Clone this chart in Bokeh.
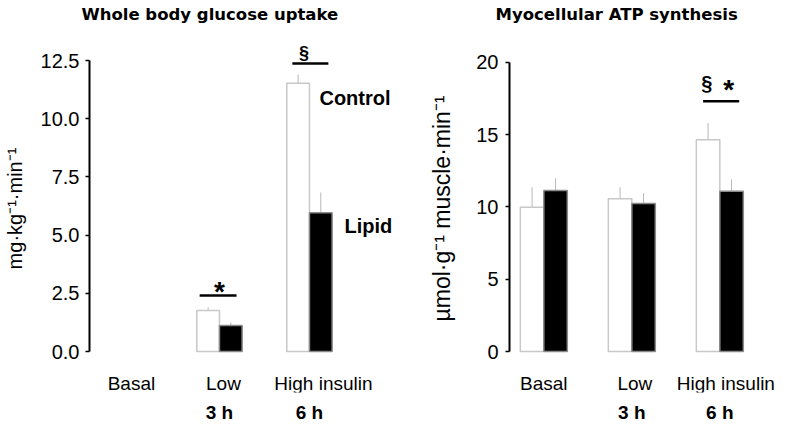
import math
from bokeh.plotting import figure
from bokeh.models import Range1d, FixedTicker
from bokeh.layouts import row
from bokeh.embed import file_html
from bokeh.resources import INLINE
from bokeh.core.properties import value

# ---------------- data ----------------
categories = ["Basal", "Low", "High insulin"]
time_labels = ["", "3 h", "6 h"]
nan = float("nan")

glucose_control = [nan, 1.76, 11.52]
glucose_control_err = [nan, 0.14, 0.38]
glucose_lipid = [nan, 1.12, 5.96]
glucose_lipid_err = [nan, 0.13, 0.87]
glucose_ticks = [0, 2.5, 5, 7.5, 10, 12.5]
glucose_tick_labels = ["0.0", "2.5", "5.0", "7.5", "10.0", "12.5"]

atp_control = [9.98, 10.56, 14.64]
atp_control_err = [1.38, 0.80, 1.15]
atp_lipid = [11.13, 10.24, 11.07]
atp_lipid_err = [0.85, 0.71, 0.83]
atp_ticks = [0, 5, 10, 15, 20]
atp_tick_labels = ["0", "5", "10", "15", "20"]

SANS = "Liberation Sans"
TITLE_FONT = "DejaVu Sans"

FRAME_TOP = 24      # figure y of the frame top (title sits above it)
FRAME_BOTTOM = 392  # figure y of the frame bottom
ZERO_Y = 351        # figure y of value 0


def build(title, title_offset, ylabel, ylabel_size, ctrl, ctrl_err, lip, lip_err, ticks,
          tick_labels, px_per_unit, px_per_group, frame_width, border_left, x_start, bar_w,
          tick_standoff, label_standoff, cat_offsets):
    y_end = (ZERO_Y - FRAME_TOP) / px_per_unit
    y_start = -(FRAME_BOTTOM - ZERO_Y) / px_per_unit
    p = figure(frame_width=frame_width, frame_height=FRAME_BOTTOM - FRAME_TOP,
               x_range=Range1d(x_start, x_start + frame_width / px_per_group),
               y_range=Range1d(y_start, y_end), output_backend="svg", toolbar_location=None,
               min_border_left=border_left, min_border_right=0, min_border_top=FRAME_TOP,
               min_border_bottom=24)
    p.outline_line_color = None
    p.grid.visible = False
    p.background_fill_color = "white"
    p.border_fill_color = "white"

    p.title.text = title
    p.title.align = "left"
    p.title.offset = title_offset
    p.title.standoff = 2
    p.title.text_font = TITLE_FONT
    p.title.text_font_size = "16.5px"
    p.title.text_font_style = "bold"
    p.title.text_color = "black"

    idx = list(range(len(categories)))
    xs_c = [i - bar_w / 2 for i, v in zip(idx, ctrl) if not math.isnan(v)]
    ys_c = [v for v in ctrl if not math.isnan(v)]
    es_c = [e for v, e in zip(ctrl, ctrl_err) if not math.isnan(v)]
    xs_l = [i + bar_w / 2 for i, v in zip(idx, lip) if not math.isnan(v)]
    ys_l = [v for v in lip if not math.isnan(v)]
    es_l = [e for v, e in zip(lip, lip_err) if not math.isnan(v)]

    # error bars (upward only)
    p.segment(x0=xs_c, y0=ys_c, x1=xs_c, y1=[y + e for y, e in zip(ys_c, es_c)],
              line_color="#b8b8b8", line_width=1)
    p.segment(x0=xs_l, y0=ys_l, x1=xs_l, y1=[y + e for y, e in zip(ys_l, es_l)],
              line_color="#b8b8b8", line_width=1)

    p.vbar(x=xs_c, top=ys_c, bottom=0, width=bar_w, fill_color="white",
           line_color="#c8c8c8", line_width=1.5)
    p.vbar(x=xs_l, top=ys_l, bottom=0, width=bar_w, fill_color="black",
           line_color="#8a8a8a", line_width=1.5)

    # category labels
    p.text(x=idx, y=[-32 / px_per_unit] * len(idx), text=categories, x_offset=cat_offsets,
           text_align="center", text_baseline="middle", text_font=value(SANS),
           text_font_size="19px", text_color="black")

    # y axis
    ya = p.yaxis[0]
    ya.ticker = FixedTicker(ticks=ticks)
    ya.major_label_overrides = {t: s for t, s in zip(ticks, tick_labels)}
    ya.bounds = (ticks[0], ticks[-1])
    ya.axis_line_width = 2
    ya.axis_line_color = "black"
    ya.major_tick_line_width = 1.5
    ya.major_tick_in = 0
    ya.major_tick_out = 4
    ya.minor_tick_line_color = None
    ya.major_label_text_font = SANS
    ya.major_label_text_font_size = "20px"
    ya.major_label_text_color = "black"
    ya.major_label_standoff = tick_standoff
    ya.axis_label = ylabel
    ya.axis_label_text_font = SANS
    ya.axis_label_text_font_size = ylabel_size
    ya.axis_label_text_font_style = "normal"
    ya.axis_label_text_color = "black"
    ya.axis_label_standoff = label_standoff

    # bottom axis carries the time row
    xa = p.xaxis[0]
    xa.ticker = FixedTicker(ticks=idx)
    xa.major_label_overrides = {i: t for i, t in zip(idx, time_labels)}
    xa.axis_line_color = None
    xa.major_tick_line_color = None
    xa.minor_tick_line_color = None
    xa.major_tick_out = 0
    xa.major_tick_in = 0
    xa.major_label_standoff = 9
    xa.major_label_text_font = SANS
    xa.major_label_text_font_size = "19px"
    xa.major_label_text_font_style = "bold"
    xa.major_label_text_color = "black"
    return p


# -------- left panel: whole body glucose uptake --------
PX1 = 23.28
p1 = build("Whole body glucose uptake", -8, "mg·kg⁻¹·min⁻¹", "20px",
           glucose_control, glucose_control_err, glucose_lipid, glucose_lipid_err,
           glucose_ticks, glucose_tick_labels,
           px_per_unit=PX1, px_per_group=90.0, frame_width=307, border_left=85,
           x_start=-0.444, bar_w=0.252, tick_standoff=6, label_standoff=12,
           cat_offsets=[2, 4, 14])

# significance marks and series labels
p1.segment(x0=[1 - 0.22], y0=[2.405], x1=[1 + 0.19], y1=[2.405], line_color="black", line_width=2.5)
p1.text(x=[1], y=[2.835 - 6 / PX1], text=["*"], text_align="center", text_baseline="middle",
        text_font=value(SANS), text_font_style="bold", text_font_size="28px")
p1.segment(x0=[2 - 0.19], y0=[12.37], x1=[2 + 0.21], y1=[12.37], line_color="black", line_width=2.5)
p1.text(x=[2 - 0.06], y=[12.84], text=["§"], text_align="center", text_baseline="middle",
        text_font=value(SANS), text_font_style="bold", text_font_size="18px")
p1.text(x=[2 + 0.111], y=[glucose_control[2] - 0.65], text=["Control"], text_align="left",
        text_baseline="middle", text_font=value(SANS), text_font_style="bold",
        text_font_size="20px")
p1.text(x=[2 + 0.389], y=[glucose_lipid[2] - 0.55], text=["Lipid"], text_align="left",
        text_baseline="middle", text_font=value(SANS), text_font_style="bold",
        text_font_size="20px")

# -------- right panel: myocellular ATP synthesis --------
PX2 = 14.465
p2 = build("Myocellular ATP synthesis", -14, "µmol·g⁻¹ muscle·min⁻¹", "23px",
           atp_control, atp_control_err, atp_lipid, atp_lipid_err,
           atp_ticks, atp_tick_labels,
           px_per_unit=PX2, px_per_group=88.0, frame_width=271, border_left=113,
           x_start=-0.39, bar_w=0.267, tick_standoff=7, label_standoff=18,
           cat_offsets=[0, 3, 6])

p2.segment(x0=[2 - 0.19], y0=[17.3], x1=[2 + 0.22], y1=[17.3], line_color="black", line_width=2.5)
p2.text(x=[2 - 0.148], y=[18.56], text=["§"], text_align="center", text_baseline="middle",
        text_font=value(SANS), text_font_style="bold", text_font_size="20px")
p2.text(x=[2 + 0.102], y=[18.56 - 6 / PX2], text=["*"], text_align="center", text_baseline="middle",
        text_font=value(SANS), text_font_style="bold", text_font_size="28px")

layout = row(p1, p2, spacing=0)

open("out.html", "w").write(file_html(layout, INLINE))
